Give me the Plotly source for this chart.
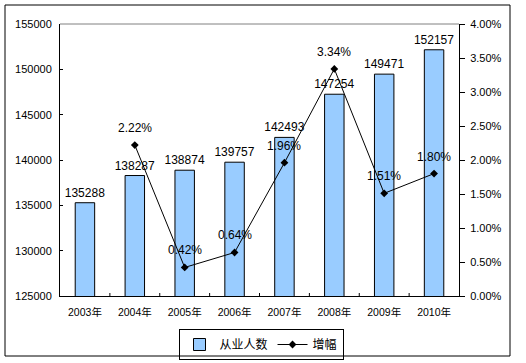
import plotly.graph_objects as go

years = ["2003年", "2004年", "2005年", "2006年", "2007年", "2008年", "2009年", "2010年"]
employees = [135288, 138287, 138874, 139757, 142493, 147254, 149471, 152157]
growth_years = ["2004年", "2005年", "2006年", "2007年", "2008年", "2009年", "2010年"]
growth = [0.0222, 0.0042, 0.0064, 0.0196, 0.0334, 0.0151, 0.0180]
growth_labels = ["2.22%", "0.42%", "0.64%", "1.96%", "3.34%", "1.51%", "1.80%"]
left_ticks = [125000, 130000, 135000, 140000, 145000, 150000, 155000]
right_ticks = [0, 0.005, 0.01, 0.015, 0.02, 0.025, 0.03, 0.035, 0.04]

FONT = "Liberation Sans, Arial, Noto Sans CJK SC, sans-serif"

fig = go.Figure()
fig.add_trace(go.Bar(
    x=years, y=employees, name="从业人数",
    marker=dict(color="#99CCFF", line=dict(color="black", width=1)),
    text=[str(v) for v in employees], textposition="outside",
    textfont=dict(size=12, color="black", family=FONT),
    constraintext="none",
    cliponaxis=False,
))
fig.add_trace(go.Scatter(
    x=growth_years, y=growth, name="增幅", yaxis="y2",
    mode="lines+markers",
    line=dict(color="black", width=1),
    marker=dict(symbol="diamond", size=6, color="black"),
    cliponaxis=False,
))

W, H = 526, 363
L, R, T, B = 60, 459, 24, 296
pw, ph = R - L, B - T

def px_x(p):
    return (p - L) / pw

def px_y(p):
    return (B - p) / ph

annotations = [
    dict(x=xv, y=yv, xref="x", yref="y2", text=t, showarrow=False,
         yshift=17, yanchor="middle", xanchor="center",
         font=dict(size=12, color="black", family=FONT))
    for xv, yv, t in zip(growth_years, growth, growth_labels)
]

fig.update_layout(
    width=W, height=H,
    margin=dict(l=L, r=W - R, t=T, b=H - B, pad=0, autoexpand=False),
    paper_bgcolor="white", plot_bgcolor="white",
    font=dict(family=FONT, color="black", size=11),
    bargap=0.61,
    showlegend=True,
    legend=dict(
        orientation="h", x=px_x(261), xanchor="center", y=px_y(329), yanchor="top",
        bordercolor="black", borderwidth=1, font=dict(size=12, family=FONT),
        bgcolor="rgba(255,255,255,0)", tracegroupgap=0,
    ),
    xaxis=dict(
        type="category", categoryorder="array", categoryarray=years,
        showline=True, linecolor="black", linewidth=1, mirror=False,
        ticks="", tickfont=dict(size=10.5), showgrid=False,
        ticklabelstandoff=6, automargin=False,
    ),
    yaxis=dict(
        range=[125000, 155000], tickvals=left_ticks,
        ticktext=[str(v) for v in left_ticks],
        showline=True, linecolor="black", linewidth=1,
        showgrid=False, zeroline=False, ticks="inside", ticklen=3, tickcolor="black",
        tickfont=dict(size=11), ticklabelstandoff=5, automargin=False,
    ),
    yaxis2=dict(
        overlaying="y", side="right", range=[0, 0.04], tickvals=right_ticks,
        ticktext=[f"{v*100:.2f}%" for v in right_ticks],
        showline=True, linecolor="black", linewidth=1,
        showgrid=False, zeroline=False, ticks="outside", ticklen=5, tickcolor="black",
        tickfont=dict(size=11), ticklabelstandoff=3, automargin=False,
    ),
    annotations=annotations,
    shapes=[
        dict(type="line", xref="paper", yref="paper", x0=0, x1=1, y0=1, y1=1,
             line=dict(color="#808080", width=1)),
        dict(type="rect", xref="paper", yref="paper",
             x0=px_x(5), x1=px_x(510), y0=px_y(356), y1=px_y(5),
             line=dict(color="black", width=1), layer="below"),
    ] + [
        dict(type="line", xref="x", yref="paper", x0=i + 0.5, x1=i + 0.5,
             y0=0, y1=3 / ph, line=dict(color="black", width=1))
        for i in range(len(years) - 1)
    ],
)

fig.write_html(
    "out.html",
    config={"displayModeBar": False},
    post_script="document.body.style.margin='0';document.body.style.overflow='hidden';",
)
